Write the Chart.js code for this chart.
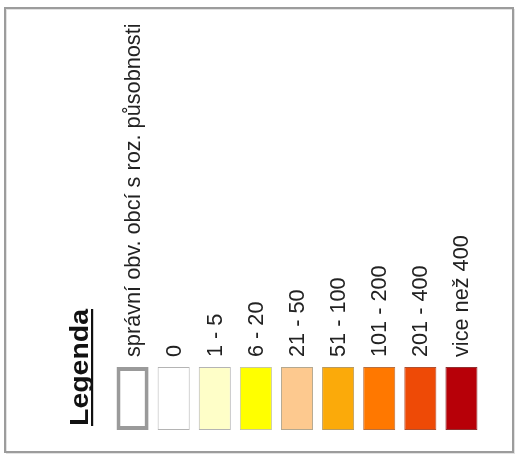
<!DOCTYPE html>
<html>
<head>
<meta charset="utf-8">
<script src="https://cdn.jsdelivr.net/npm/chart.js@4/dist/chart.umd.min.js"></script>
<style>
  html, body { margin: 0; padding: 0; background: #fff; }
  #wrap { width: 518px; height: 461px; position: relative; }
</style>
</head>
<body>
<div id="wrap"><canvas id="legendChart" width="518" height="461"></canvas></div>
<script>
  const TITLE = 'Legenda';
  const categories = ['správní obv. obcí s roz. působnosti', '0', '1 - 5', '6 - 20', '21 - 50', '51 - 100', '101 - 200', '201 - 400', 'vice než 400'];
  const swatchValues = [1, 1, 1, 1, 1, 1, 1, 1, 1];
  const fillColors = ['#ffffff', '#ffffff', '#fefec8', '#ffff00', '#fdc98f', '#fbaa0a', '#ff7800', '#ee4a06', '#b70008'];
  const edgeColors = ['#9a9a9a', '#b4b4b4', '#b4b4b4', '#c8c8a0', '#b4a890', '#b89a60', '#b87040', '#b05030', '#903030'];
  const edgeWidths = [4, 1, 1, 1, 1, 1, 1, 1, 1];

  // frame, rotated labels and title
  const legendText = {
    id: 'legendText',
    beforeDraw(chart) {
      const ctx = chart.ctx;
      ctx.save();
      ctx.strokeStyle = '#e2e2e2';
      ctx.lineWidth = 1;
      ctx.strokeRect(6.5, 9.5, 508, 444);
      ctx.strokeStyle = '#9c9c9c';
      ctx.lineWidth = 2;
      ctx.strokeRect(5, 8, 508, 444);
      ctx.restore();
    },
    afterDraw(chart) {
      const ctx = chart.ctx;
      const x = chart.scales.x;
      const top = chart.chartArea.top;
      ctx.save();
      ctx.fillStyle = '#222';
      ctx.font = '21.7px "Liberation Sans", Arial, sans-serif';
      ctx.textAlign = 'left';
      ctx.textBaseline = 'middle';
      categories.forEach((label, i) => {
        ctx.save();
        ctx.translate(x.getPixelForValue(i) + 1, top - 10);
        ctx.rotate(-Math.PI / 2);
        ctx.fillText(label, 0, 0);
        ctx.restore();
      });

      // title
      ctx.font = 'bold 25px "Liberation Sans", Arial, sans-serif';
      ctx.textBaseline = 'alphabetic';
      const w = ctx.measureText(TITLE).width;
      const stretch = 117 / w;
      ctx.translate(88, chart.chartArea.bottom - 4);
      ctx.rotate(-Math.PI / 2);
      ctx.scale(stretch, 1);
      ctx.fillStyle = '#111';
      ctx.fillText(TITLE, 0, 0);
      ctx.fillRect(0, 3, w, 2.2);
      ctx.restore();
    }
  };

  new Chart(document.getElementById('legendChart'), {
    type: 'bar',
    data: {
      labels: categories,
      datasets: [{
        data: swatchValues,
        backgroundColor: fillColors,
        borderColor: edgeColors,
        borderWidth: edgeWidths,
        borderSkipped: false,
        categoryPercentage: 1,
        barPercentage: 0.78
      }]
    },
    options: {
      responsive: false,
      animation: false,
      events: [],
      layout: { padding: { left: 112, right: 36, top: 367, bottom: 31 } },
      scales: {
        x: { display: false, offset: true },
        y: { display: false, min: 0, max: 1 }
      },
      plugins: {
        legend: { display: false },
        tooltip: { enabled: false }
      }
    },
    plugins: [legendText]
  });
</script>
</body>
</html>
